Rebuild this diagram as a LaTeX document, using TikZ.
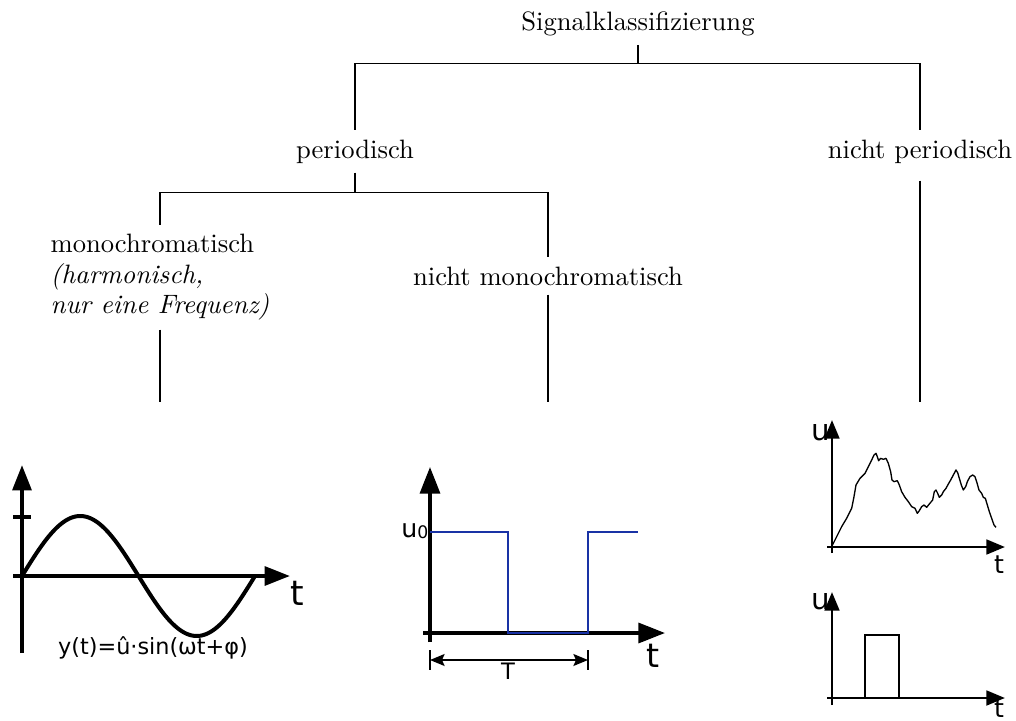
\documentclass[tikz,border=0pt]{standalone}
\usepackage{fontspec}
\newfontfamily\plotfont{DejaVu Sans}
\usetikzlibrary{arrows.meta}
\definecolor{sqblue}{RGB}{25,50,165}
\begin{document}
\begin{tikzpicture}[x=0.376pt,y=-0.376pt,
  lbl/.style={font=\fontsize{10}{12}\selectfont},
  branch/.style={line width=0.38pt},
  pl/.style={inner sep=0pt},
  bigax/.style={line width=1.5pt, -{Triangle[length=9.5pt,width=7pt]}},
  midax/.style={line width=1.3pt, -{Triangle[length=10pt,width=7.5pt]}},
  smallax/.style={line width=1.1pt, -{Triangle[length=7pt,width=5.5pt]}},
  dimarrow/.style={line width=0.6pt, {Stealth[length=5.5pt,width=4.5pt,inset=1pt]}-{Stealth[length=5.5pt,width=4.5pt,inset=1pt]}}
]
\useasboundingbox (0,0) rectangle (1016,721);

% ---------- tree ----------
\node[lbl, anchor=base] (sig) at (638,30) {Signalklassifizierung};
\node[lbl, anchor=base] (per) at (355,158) {periodisch};
\node[lbl, anchor=base] (nper) at (920,158) {nicht periodisch};
\node[anchor=north, align=left, font=\fontsize{10}{11.4}\selectfont] (mono) at (160,225)
  {monochromatisch\\\textit{(harmonisch,}\\\textit{nur eine Frequenz)}};
\node[lbl, anchor=base] (nmono) at (548,285) {nicht monochromatisch};

\coordinate (j1) at (638,63);
\coordinate (j2) at (355,192);
\coordinate (e1) at (160,402);
\coordinate (e2) at (548,402);
\coordinate (e3) at (920,402);

\draw[branch] (sig.south) -- (j1);
\draw[branch] (j1) -| (per.north);
\draw[branch] (j1) -| (nper.north);
\draw[branch] (per.south) -- (j2);
\draw[branch] (j2) -| (mono.north);
\draw[branch] (j2) -| (nmono.north);
\draw[branch] (mono.south) -- (e1);
\draw[branch] (nmono.south) -- (e2);
\draw[branch, shorten <=3pt] (nper.south) -- (e3);

% ---------- sine panel ----------
\draw[bigax] (22,653) -- (22,465);
\draw[bigax] (13,576) -- (290,576);
\draw[line width=1.5pt] (13,517) -- (31,517);
\draw[line width=1.5pt, line join=round] plot[domain=0:233, samples=120, smooth] ({22+\x},{576-60*sin(\x/233*360)});
\node[pl, font=\plotfont\fontsize{13}{15}\selectfont] (tsin) at (297,593) {t};
\node[pl, font=\plotfont\fontsize{8.4}{10}\selectfont] (formula) at (153,648) {y(t)=û·sin(ωt+φ)};

% ---------- square wave panel ----------
\draw[midax] (430,642) -- (430,467);
\draw[midax] (423,633) -- (665,633);
\draw[sqblue, line width=1.1pt] (430,532) -- (508,532) -- (508,633) -- (588,633) -- (588,532) -- (638,532);
\node[pl, anchor=base east, font=\plotfont\fontsize{9.5}{11}\selectfont] (uzero) at (429,537) {u\raisebox{-0.05em}{\fontsize{6.5}{7}\selectfont 0}};
\node[pl, font=\plotfont\fontsize{12.5}{14}\selectfont] (tsq) at (653,656) {t};
\draw[line width=0.6pt] (430,650) -- (430,670);
\draw[line width=0.6pt] (588,650) -- (588,670);
\draw[dimarrow] (430,660) -- (588,660);
\node[pl, anchor=north, font=\plotfont\fontsize{8.5}{10}\selectfont] (Tlab) at (508,662) {T};

% ---------- non periodic panels ----------
\draw[smallax] (832,553) -- (832,420);
\draw[smallax] (827,547) -- (1005,547);
\node[pl, font=\plotfont\fontsize{11}{13}\selectfont] (u1) at (821,433) {u};
\node[pl, font=\plotfont\fontsize{9.5}{11}\selectfont] (t1) at (999,565) {t};
\begin{scope}[shift={(800,410)}, scale=1/3]
\draw[line width=0.5pt, line join=round] (95,410) -- (110,380) -- (125,350) -- (140,325) -- (155,295) -- (162,260) -- (168,225) -- (180,205) -- (195,190) -- (205,170) -- (215,150) -- (222,135) -- (228,130) -- (232,140) -- (236,152) -- (242,145) -- (250,148) -- (258,145) -- (265,160) -- (272,185) -- (276,210) -- (282,215) -- (292,212) -- (298,225) -- (305,245) -- (315,262) -- (325,275) -- (335,290) -- (345,295) -- (352,310) -- (358,302) -- (365,290) -- (372,285) -- (380,292) -- (388,282) -- (398,270) -- (403,245) -- (408,240) -- (413,250) -- (418,262) -- (425,255) -- (430,245) -- (438,235) -- (445,222) -- (452,210) -- (460,195) -- (468,180) -- (473,188) -- (478,205) -- (484,225) -- (490,240) -- (497,230) -- (502,215) -- (510,200) -- (518,195) -- (525,200) -- (530,215) -- (537,240) -- (545,250) -- (550,262) -- (556,265) -- (562,285) -- (568,305) -- (575,325) -- (582,345) -- (588,352);
\end{scope}

\draw[smallax] (832,705) -- (832,592);
\draw[smallax] (827,698) -- (1005,698);
\node[pl, font=\plotfont\fontsize{11}{13}\selectfont] (u2) at (821,602) {u};
\node[pl, font=\plotfont\fontsize{9.5}{11}\selectfont] (t2) at (999,709) {t};
\draw[line width=0.6pt] (865,698) -- (865,635) -- (899,635) -- (899,698);
\end{tikzpicture}
\end{document}
